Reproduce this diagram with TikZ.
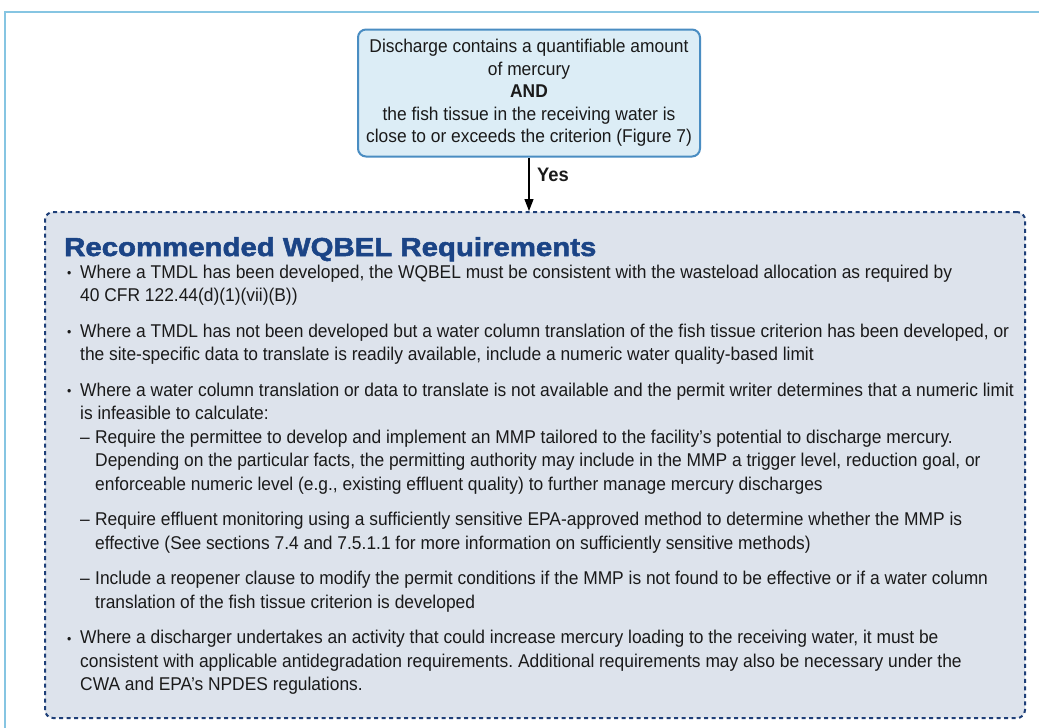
\documentclass[tikz,border=0pt]{standalone}
\usepackage{fontspec}
\setmainfont{Liberation Sans}[FakeStretch=0.94]
\newfontfamily\titlefont{Liberation Sans Bold}[FakeStretch=1.13, FakeBold=2]
\usetikzlibrary{arrows.meta}

\definecolor{framecol}{HTML}{86C5E2}
\definecolor{condfill}{HTML}{DCEDF6}
\definecolor{conddraw}{HTML}{4A8DC2}
\definecolor{reqfill}{HTML}{DDE3EC}
\definecolor{reqdraw}{HTML}{1E3F78}
\definecolor{titlecol}{HTML}{1B4486}
\definecolor{bodytext}{HTML}{1A1A1A}

% list items: bullet and dash with hanging indents
\newcommand\reqbullet{\par\hangindent=13pt\hangafter=1\noindent\makebox[13pt][l]{\raisebox{0.5pt}{\fontsize{13}{13}\selectfont\textbullet}}}
\newcommand\reqdash{\par\hangindent=28pt\hangafter=1\noindent\hspace*{13pt}\makebox[15pt][l]{–}}

\tikzset{
  condbox/.style={draw=conddraw, fill=condfill, line width=2pt, rounded corners=8pt,
    minimum width=342pt, minimum height=127pt, align=center, inner sep=0pt,
    text=bodytext, font=\fontsize{18.5}{22.5}\selectfont},
  reqbox/.style={draw=reqdraw, fill=reqfill, line width=2pt, rounded corners=8pt,
    dash pattern=on 4pt off 3.5pt, minimum width=980pt, minimum height=506pt, inner sep=0pt},
  flow/.style={line width=1.2pt, -{Triangle[length=12pt,width=9pt]}},
  yeslabel/.style={font=\fontsize{19.5}{22}\selectfont\bfseries, text=bodytext, inner sep=0pt, anchor=west},
  titletext/.style={font=\fontsize{26}{30}\selectfont\titlefont, text=titlecol, inner sep=0pt, anchor=base west},
  bodyblock/.style={inner sep=0pt, anchor=base west, text=bodytext}
}

\begin{document}
\begin{tikzpicture}[x=1pt,y=-1pt]
\useasboundingbox (0,0) rectangle (1039,728);
\fill[white] (0,0) rectangle (1039,728);

% outer frame
\draw[framecol, line width=2pt] (5,760) -- (5,12) -- (1060,12);

% condition box
\node[condbox] (cond) at (529,93) {Discharge contains a quantifiable amount\\of mercury\\\textbf{AND}\\the fish tissue in the receiving water is\\close to or exceeds the criterion (Figure 7)};

% requirements container
\node[reqbox] (req) at (535,465) {};

% connector
\draw[flow] (cond.south) -- (cond.south |- req.north);
\node[yeslabel] (yes) at (537,175) {Yes};

% title
\node[titletext] (title) at (64,256) {Recommended WQBEL Requirements};

% requirement list
\node[bodyblock] (list) at (67,278) {\parbox[t]{1000pt}{%
\fontsize{18.5}{23.5}\selectfont\frenchspacing\raggedright\parskip=0pt
\reqbullet Where a TMDL has been developed, the WQBEL must be consistent with the wasteload allocation as required by\newline
40 CFR 122.44(d)(1)(vii)(B))\par\vspace{12pt}
\reqbullet Where a TMDL has not been developed but a water column translation of the fish tissue criterion has been developed, or\newline
the site-specific data to translate is readily available, include a numeric water quality-based limit\par\vspace{12pt}
\reqbullet Where a water column translation or data to translate is not available and the permit writer determines that a numeric limit\newline
is infeasible to calculate:\par
\reqdash Require the permittee to develop and implement an MMP tailored to the facility’s potential to discharge mercury.\newline
Depending on the particular facts, the permitting authority may include in the MMP a trigger level, reduction goal, or\newline
enforceable numeric level (e.g., existing effluent quality) to further manage mercury discharges\par\vspace{12pt}
\reqdash Require effluent monitoring using a sufficiently sensitive EPA-approved method to determine whether the MMP is\newline
effective (See sections 7.4 and 7.5.1.1 for more information on sufficiently sensitive methods)\par\vspace{12pt}
\reqdash Include a reopener clause to modify the permit conditions if the MMP is not found to be effective or if a water column\newline
translation of the fish tissue criterion is developed\par\vspace{12pt}
\reqbullet Where a discharger undertakes an activity that could increase mercury loading to the receiving water, it must be\newline
consistent with applicable antidegradation requirements. Additional requirements may also be necessary under the\newline
CWA and EPA’s NPDES regulations.\par}};
\end{tikzpicture}
\end{document}
